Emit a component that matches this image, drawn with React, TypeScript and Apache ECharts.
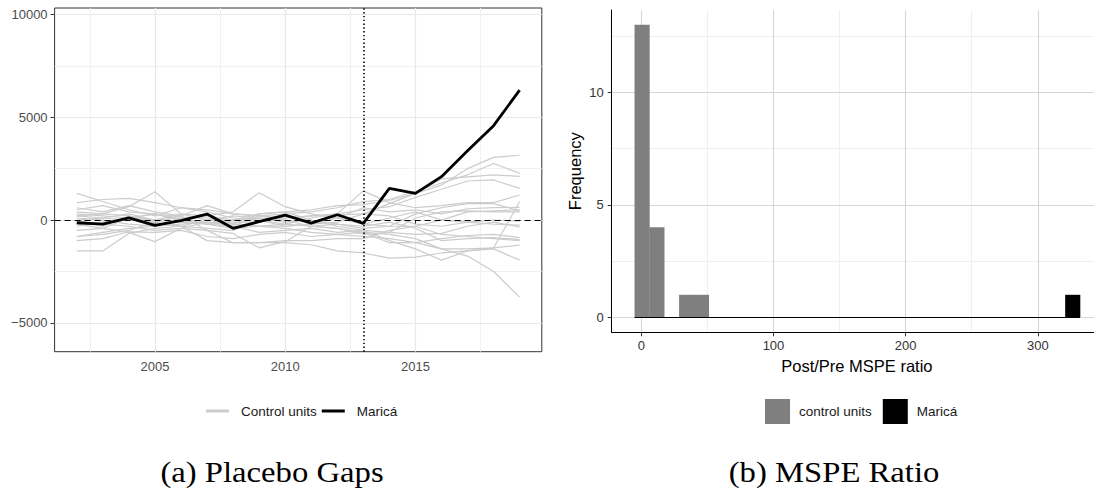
import React, { useEffect, useRef } from "react";
import * as echarts from "echarts";

// ---------- Data: placebo gaps (panel a) ----------
const years = [2002, 2003, 2004, 2005, 2006, 2007, 2008, 2009, 2010, 2011, 2012, 2013, 2014, 2015, 2016, 2017, 2018, 2019];
const maricaGap = [-130, -195, 110, -260, -30, 290, -400, -80, 240, -150, 260, -160, 1540, 1300, 2110, 3370, 4590, 6320];

const control01 = [850, 1000, 1050, 850, 600, 500, 300, 200, 100, 200, 250, 300, 800, 1300, 1700, 2500, 3050, 3150];
const control02 = [600, 400, 700, 400, 200, 700, 300, 200, 300, 400, 600, 900, 1000, 1400, 1800, 2200, 2750, 2270];
const control03 = [-300, -100, 100, 0, 300, 200, 0, 300, 400, 500, 700, 750, 950, 1300, 2000, 2100, 2200, 2120];
const control04 = [300, 200, 100, 300, 150, 100, -100, -100, 100, 200, 300, 500, 650, 1100, 1500, 1900, 1950, 1540];
const control05 = [1300, 900, 500, 200, 600, 400, 100, 0, -200, 100, 300, 1420, 850, 600, 700, 850, 850, 1220];
const control06 = [-800, -600, -400, -300, -200, -100, -200, -300, -200, -300, -400, -600, -1100, -1100, -1400, -1400, -1350, 900];
const control07 = [200, 300, 650, 1380, 300, 0, 200, 100, 0, -100, 100, 600, 400, 500, 300, 550, 600, 620];
const control08 = [0, -300, 200, 0, 100, 200, 400, 1330, 650, 300, 100, -200, 100, 400, 0, 400, 450, 500];
const control09 = [-500, -400, 100, 300, 0, -200, 0, 100, -100, 0, -200, -400, -300, 300, 600, 800, 800, 450];
const control10 = [100, 0, -200, -300, 100, -200, -300, 200, 0, -300, -400, -700, -600, 100, 400, 450, 400, 400];
const control11 = [400, 300, 200, -200, -300, -400, -500, 0, -300, -200, -100, 300, 200, -200, -300, -100, -200, -250];
const control12 = [-100, -200, -300, -500, -400, -100, -300, -600, -500, -400, -600, -500, -600, -700, -650, -300, -100, -330];
const control13 = [-1000, -900, -570, -600, -500, -800, -900, -700, -600, -800, -700, -800, -900, -1100, -900, -750, -700, -850];
const control14 = [0, 100, 0, -100, 200, -500, -650, -1350, -1050, -300, -200, -300, -100, -400, -1000, -900, -850, -950];
const control15 = [-200, -400, -600, -1050, -400, -500, -1100, -1100, -1000, -1000, -900, -900, -500, -300, -700, -800, -900, -1000];
const control16 = [500, 700, 400, 300, 0, 300, -200, 300, 400, 0, -300, -500, -1000, -1400, -1950, -1500, -1350, -1220];
const control17 = [-1500, -1500, -650, -400, -300, -1000, -1100, -1100, -1100, -1200, -1500, -1600, -1850, -1800, -1600, -1500, -1400, -1950];
const control18 = [200, 100, 300, 0, -100, -200, -400, -300, -400, -600, -700, -600, -700, -900, -1400, -1750, -2500, -3750];
const control19 = [-800, -700, -500, -100, -300, 0, -200, -300, -300, -200, 100, -200, -300, -300, 0, -100, 0, -50];
const controlUnits = [control01, control02, control03, control04, control05, control06, control07, control08, control09, control10,
  control11, control12, control13, control14, control15, control16, control17, control18, control19];

const treatmentYear = 2013;
const gapYTicks = [-5000, 0, 5000, 10000];
const gapYMinor = [-2500, 2500, 7500];
const gapXTicks = [2005, 2010, 2015];
const gapXMinor = [2002.5, 2007.5, 2012.5, 2017.5];

// ---------- Data: MSPE ratio histogram (panel b) ----------
const controlBinCenters = [0.5, 11.7, 34.2, 45.4];
const controlCounts = [13, 4, 1, 1];
const maricaBinCenters = [326.3];
const maricaCounts = [1];
const binWidth = 11.23;
const ratioXTicks = [0, 100, 200, 300];
const ratioXMinor = [50, 150, 250];
const freqTicks = [0, 5, 10];
const freqMinor = [2.5, 7.5, 12.5];

const SANS = '"Liberation Sans", Arial, Helvetica, sans-serif';
const minus = (v: number) => (v < 0 ? "\u2212" + Math.abs(v) : String(v));

function gridMarks(xMajor: number[], yMajor: number[], xMinor: number[], yMinor: number[], majorColor: string, minorColor: string, majorW: number, minorW: number) {
  return {
    silent: true,
    z: 0,
    symbol: "none",
    label: { show: false },
    emphasis: { disabled: true },
    data: [
      ...xMinor.map((v) => ({ xAxis: v, lineStyle: { color: minorColor, width: minorW, type: "solid" } })),
      ...yMinor.map((v) => ({ yAxis: v, lineStyle: { color: minorColor, width: minorW, type: "solid" } })),
      ...xMajor.map((v) => ({ xAxis: v, lineStyle: { color: majorColor, width: majorW, type: "solid" } })),
      ...yMajor.map((v) => ({ yAxis: v, lineStyle: { color: majorColor, width: majorW, type: "solid" } })),
    ],
  };
}

function histRender(color: string) {
  return (params: any, api: any) => {
    const c = api.value(0);
    const n = api.value(1);
    const p0 = api.coord([c - binWidth / 2, n]);
    const p1 = api.coord([c + binWidth / 2, 0]);
    return {
      type: "rect",
      shape: { x: p0[0], y: p0[1], width: p1[0] - p0[0] + 0.3, height: p1[1] - p0[1] },
      style: { fill: color, stroke: null, lineWidth: 0 },
    };
  };
}

export default function App() {
  const ref = useRef<HTMLDivElement>(null);

  useEffect(() => {
    if (!ref.current) return;
    const chart = echarts.init(ref.current, undefined, { renderer: "svg" });

    const controlSeries = controlUnits.map((arr) => ({
      name: "Control units",
      type: "line",
      xAxisIndex: 0,
      yAxisIndex: 0,
      data: years.map((y, i) => [y, arr[i]]),
      showSymbol: false,
      symbol: "none",
      silent: true,
      z: 2,
      lineStyle: { color: "#CCCCCC", width: 1.2 },
      itemStyle: { color: "#CCCCCC" },
    }));

    const option: any = {
      animation: false,
      textStyle: { fontFamily: SANS },
      grid: [
        { left: 54.6, top: 8, width: 487.2, height: 343.7, show: true, borderColor: "#333333", borderWidth: 1, backgroundColor: "transparent" },
        { left: 611.7, top: 10, width: 482.3, height: 322.3 },
      ],
      xAxis: [
        {
          type: "value", gridIndex: 0, min: 2001.15, max: 2019.85,
          axisLine: { show: false },
          axisTick: { show: true, length: 4, customValues: gapXTicks, lineStyle: { color: "#333333" } },
          axisLabel: { customValues: gapXTicks, margin: 8, fontSize: 13, color: "#4D4D4D", fontFamily: SANS, formatter: (v: number) => String(v) },
          splitLine: { show: false },
        },
        {
          type: "value", gridIndex: 1, min: -22.4, max: 342.5,
          axisLine: { show: true, onZero: false, lineStyle: { color: "#000000", width: 1 } },
          axisTick: { show: true, length: 4, customValues: ratioXTicks, lineStyle: { color: "#333333" } },
          axisLabel: { customValues: ratioXTicks, margin: 7, fontSize: 13, color: "#333333", fontFamily: SANS, formatter: (v: number) => String(v) },
          splitLine: { show: false },
          name: "Post/Pre MSPE ratio", nameLocation: "middle", nameGap: 18,
          nameTextStyle: { fontSize: 16.5, color: "#000000", fontFamily: SANS, padding: [0, 0, 0, 8] },
        },
      ],
      yAxis: [
        {
          type: "value", gridIndex: 0, min: -6400, max: 10310,
          axisLine: { show: false },
          axisTick: { show: true, length: 4, customValues: gapYTicks, lineStyle: { color: "#333333" } },
          axisLabel: { customValues: gapYTicks, margin: 7, fontSize: 13, color: "#4D4D4D", fontFamily: SANS, formatter: (v: number) => minus(v) },
          splitLine: { show: false },
        },
        {
          type: "value", gridIndex: 1, min: -0.667, max: 13.66,
          axisLine: { show: true, onZero: false, lineStyle: { color: "#000000", width: 1 } },
          axisTick: { show: true, length: 4, customValues: freqTicks, lineStyle: { color: "#333333" } },
          axisLabel: { customValues: freqTicks, margin: 8, fontSize: 13, color: "#333333", fontFamily: SANS, formatter: (v: number) => String(v) },
          splitLine: { show: false },
          name: "Frequency", nameLocation: "middle", nameGap: 28, nameRotate: 90,
          nameTextStyle: { fontSize: 16.5, color: "#000000", fontFamily: SANS },
        },
      ],
      legend: [
        {
          left: 201, top: 399, padding: 5, orient: "horizontal", selectedMode: false,
          data: [{ name: "Control units", icon: "rect" }, { name: "Maricá", icon: "rect" }],
          itemWidth: 23, itemHeight: 3, itemGap: 5,
          textStyle: { fontSize: 13.5, color: "#1A1A1A", fontFamily: SANS, padding: [0, 0, 0, 7] },
        },
        {
          left: 760, top: 394, padding: 5, orient: "horizontal", selectedMode: false,
          data: [{ name: "control units", icon: "rect" }, { name: "Maricá", icon: "rect" }],
          itemWidth: 25, itemHeight: 25, itemGap: 11,
          textStyle: { fontSize: 13.5, color: "#1A1A1A", fontFamily: SANS, padding: [0, 0, 0, 4] },
        },
      ],
      graphic: [
        { type: "text", x: 272, y: 472, scaleX: 1.09, style: { text: "(a) Placebo Gaps", font: '30px "Liberation Serif"', fill: "#000000", textAlign: "center", textVerticalAlign: "middle" } },
        { type: "text", x: 834, y: 472, scaleX: 1.09, style: { text: "(b) MSPE Ratio", font: '30px "Liberation Serif"', fill: "#000000", textAlign: "center", textVerticalAlign: "middle" } },
      ],
      series: [
        {
          name: "_gridA", type: "line", xAxisIndex: 0, yAxisIndex: 0, data: [], z: 1, silent: true,
          markLine: gridMarks(gapXTicks, gapYTicks, gapXMinor, gapYMinor, "#E8E8E8", "#EFEFEF", 1.2, 0.9),
        },
        ...controlSeries,
        {
          name: "_refA", type: "line", xAxisIndex: 0, yAxisIndex: 0, data: [], z: 3, silent: true,
          markLine: {
            silent: true, z: 3, symbol: "none", label: { show: false }, emphasis: { disabled: true },
            data: [
              { yAxis: 0, lineStyle: { color: "#000000", width: 1.2, type: [6, 4] } },
              { xAxis: treatmentYear, lineStyle: { color: "#000000", width: 1.6, type: [1.4, 2.4] } },
            ],
          },
        },
        {
          name: "Maricá", type: "line", xAxisIndex: 0, yAxisIndex: 0,
          data: years.map((y, i) => [y, maricaGap[i]]),
          showSymbol: false, symbol: "none", silent: true, z: 4,
          lineStyle: { color: "#000000", width: 2.8 },
          itemStyle: { color: "#000000" },
        },
        {
          name: "_gridB", type: "line", xAxisIndex: 1, yAxisIndex: 1, data: [], z: 1, silent: true,
          markLine: gridMarks(ratioXTicks, freqTicks, ratioXMinor, freqMinor, "#D6D6D6", "#EBEBEB", 1.1, 0.8),
        },
        {
          name: "control units", type: "custom", xAxisIndex: 1, yAxisIndex: 1, z: 2, silent: true,
          data: controlBinCenters.map((c, i) => [c, controlCounts[i]]),
          encode: { x: 0, y: 1 },
          renderItem: histRender("#7F7F7F"),
          itemStyle: { color: "#7F7F7F" },
        },
        {
          name: "Maricá", type: "custom", xAxisIndex: 1, yAxisIndex: 1, z: 2, silent: true,
          data: maricaBinCenters.map((c, i) => [c, maricaCounts[i]]),
          encode: { x: 0, y: 1 },
          renderItem: histRender("#000000"),
          itemStyle: { color: "#000000" },
          markLine: {
            silent: true, z: 3, symbol: "none", label: { show: false }, emphasis: { disabled: true },
            lineStyle: { color: "#000000", width: 1, type: "solid" },
            data: [[
              { coord: [controlBinCenters[0] - binWidth / 2, 0] },
              { coord: [maricaBinCenters[maricaBinCenters.length - 1] + binWidth / 2, 0] },
            ]],
          },
        },
      ],
    };

    chart.setOption(option);
    return () => chart.dispose();
  }, []);

  return <div ref={ref} style={{ position: "absolute", left: 0, top: 0, width: 1094, height: 489 }} />;
}
